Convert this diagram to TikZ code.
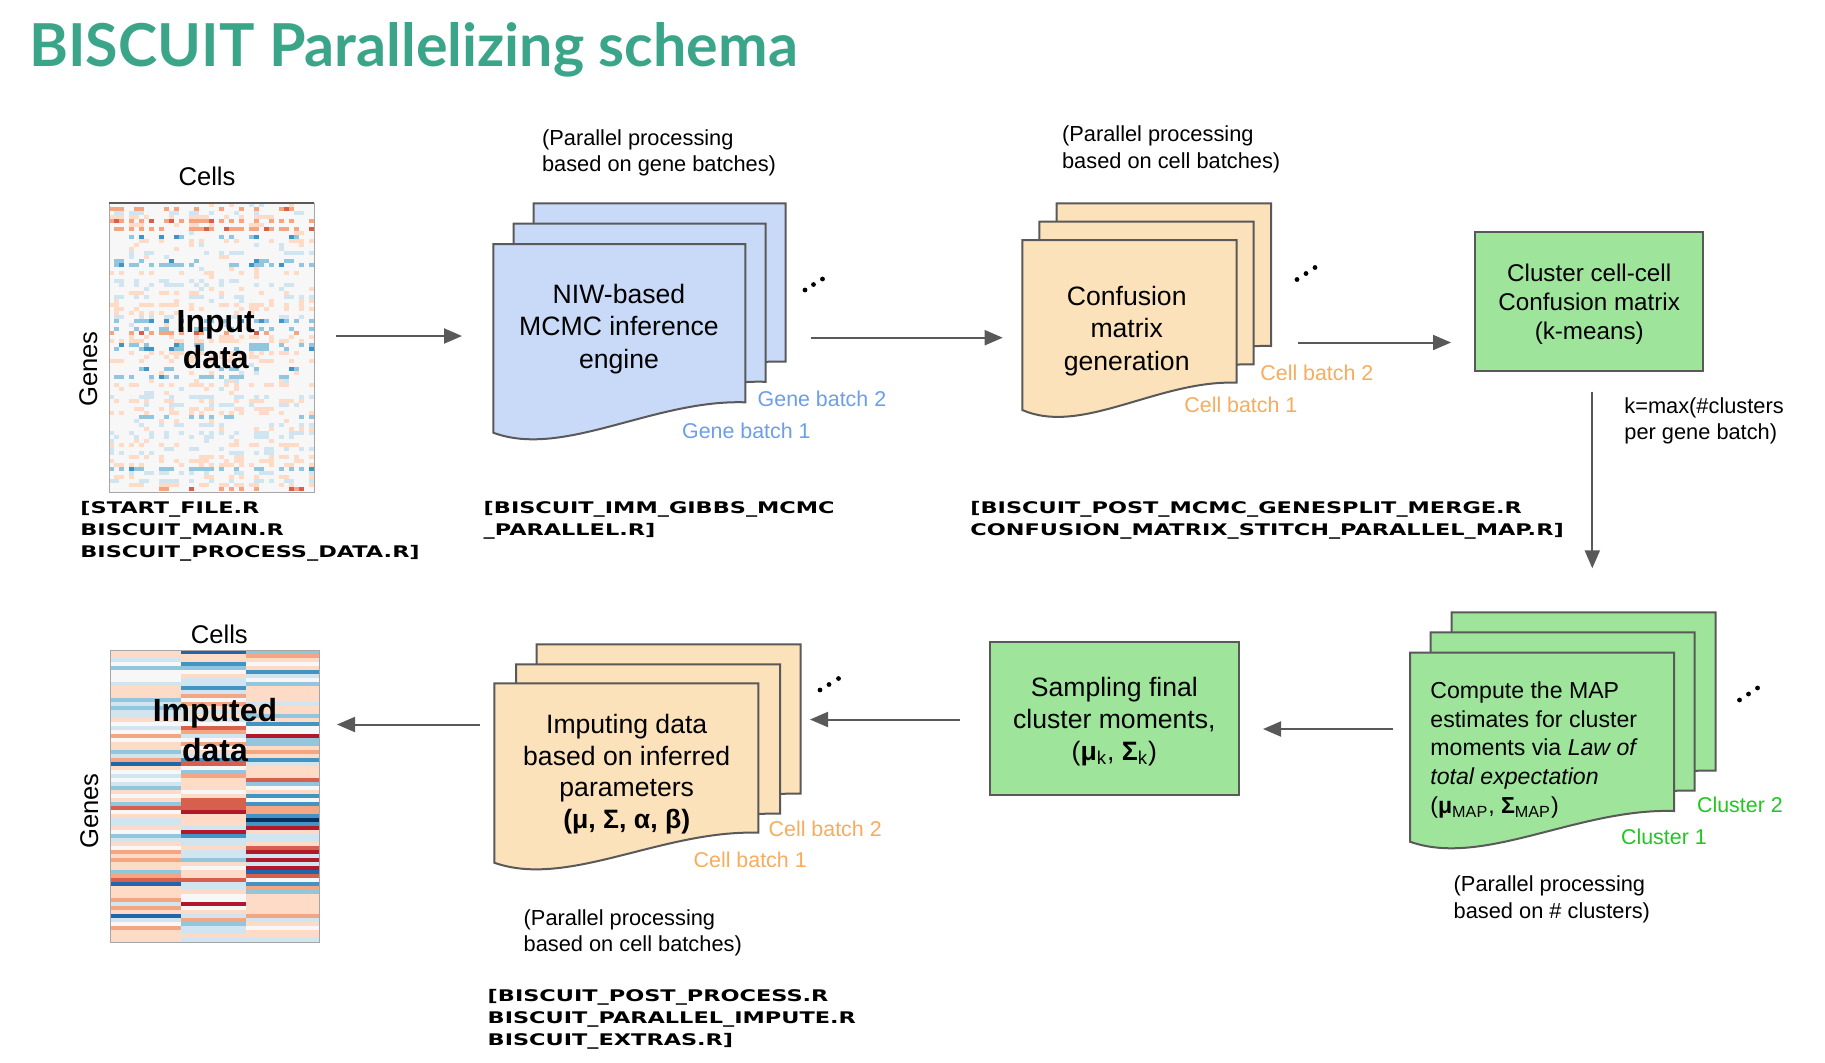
\documentclass[tikz,border=0pt]{standalone}
\usepackage{fontspec}
\setmainfont{Liberation Sans}
\newfontfamily\titlefont{Lato}
\newfontfamily\codefont[FakeStretch=1.4]{DejaVu Sans}
\usetikzlibrary{arrows.meta}
\definecolor{teal1}{HTML}{3BA589}
\definecolor{edge}{HTML}{595959}
\definecolor{blueF}{HTML}{C9DAF8}
\definecolor{peachF}{HTML}{FCE2BA}
\definecolor{greenF}{HTML}{9EE59B}
\definecolor{blueT}{HTML}{6D9EEB}
\definecolor{orangeT}{HTML}{F8AC5C}
\definecolor{greenT}{HTML}{1FC71F}
\definecolor{rb1}{HTML}{B2182B}
\definecolor{rb2}{HTML}{D6604D}
\definecolor{rb3}{HTML}{F4A582}
\definecolor{rb4}{HTML}{FDDBC7}
\definecolor{rb5}{HTML}{F7F7F7}
\definecolor{rb6}{HTML}{D1E5F0}
\definecolor{rb7}{HTML}{92C5DE}
\definecolor{rb8}{HTML}{4393C3}
\definecolor{rb9}{HTML}{2166AC}
\definecolor{rb10}{HTML}{053061}

\newcommand\hmpick[1]{%
  \ifnum#1<33 \def\hmc{rb4}\else
  \ifnum#1<53 \def\hmc{rb6}\else
  \ifnum#1<67 \def\hmc{rb5}\else
  \ifnum#1<77 \def\hmc{rb3}\else
  \ifnum#1<85 \def\hmc{rb7}\else
  \ifnum#1<90 \def\hmc{rb2}\else
  \ifnum#1<94 \def\hmc{rb8}\else
  \ifnum#1<97 \def\hmc{rb1}\else
  \ifnum#1<99 \def\hmc{rb9}\else
  \def\hmc{rb10}\fi\fi\fi\fi\fi\fi\fi\fi\fi}

\newcommand\hmcell[2]{%
  \def\hmc{}%
  \ifnum#1<3 \ifnum#2<45 \def\hmc{rb4}\fi\else
  \ifnum#1<5 \ifnum#2<40 \def\hmc{rb6}\fi\else
  \ifnum#1<6 \ifnum#2<40 \def\hmc{rb3}\else\ifnum#2<48 \def\hmc{rb2}\fi\fi\else
  \ifnum#1<7 \ifnum#2<35 \def\hmc{rb7}\else\ifnum#2<42 \def\hmc{rb8}\fi\fi\else
  \ifnum#2<8 \def\hmc{rb4}\else\ifnum#2<12 \def\hmc{rb6}\fi\fi
  \fi\fi\fi\fi}

% document sheet: x y W hR hL fill
\newcommand\docsheet[6]{%
  \pgfmathsetmacro\dxa{#1+#3}%
  \pgfmathsetmacro\dyr{#2+#4}%
  \pgfmathsetmacro\dyl{#2+#5}%
  \pgfmathsetmacro\cax{#1+0.635*#3}%
  \pgfmathsetmacro\cay{#2+#4-3}%
  \pgfmathsetmacro\cbx{#1+0.278*#3}%
  \pgfmathsetmacro\cby{#2+#5+26}%
  \draw[sheet,fill=#6] (#1,#2) -- (\dxa,#2) -- (\dxa,\dyr) .. controls (\cax,\cay) and (\cbx,\cby) .. (#1,\dyl) -- cycle;}

\newcommand\threedots[6]{%
  \fill[black] (#1,#2) circle[radius=1.2pt] (#3,#4) circle[radius=1.2pt] (#5,#6) circle[radius=1.2pt];}

\tikzset{
  sheet/.style={draw=edge, line width=1pt},
  arr/.style={draw=edge, line width=1pt, -{Triangle[length=9pt,width=7.5pt]}},
  pbox/.style={draw=edge, line width=1pt, fill=greenF, inner sep=0, align=center},
  doctext/.style={inner sep=0, font=\fontsize{13.3}{16.25}\selectfont},
  note/.style={inner sep=0, anchor=base west, font=\fontsize{10.9}{13.3}\selectfont},
  batch/.style={inner sep=0, anchor=base west, font=\fontsize{10.7}{13}\selectfont},
  axlbl/.style={inner sep=0, anchor=base, font=\fontsize{12.8}{15}\selectfont},
  codelbl/.style={inner sep=0, anchor=base west, font=\codefont\bfseries\fontsize{8}{11}\selectfont},
}

\begin{document}
\begin{tikzpicture}[x=0.5pt,y=-0.5pt]
\useasboundingbox (0,0) rectangle (1825,1062);
\fill[white] (0,0) rectangle (1825,1062);

% ---------- title
\node[anchor=base west, inner sep=0, text=teal1, font=\titlefont\bfseries\fontsize{29.6}{34}\selectfont] (title) at (29,66.5) {BISCUIT Parallelizing schema};

% ---------- input heatmap
\pgfmathsetseed{7}
\fill[rb5] (109,203) rectangle (314,492);
\foreach \hr in {0,...,71}{
  \pgfmathrandominteger{\hrt}{0}{9}
  \foreach \hc in {0,...,40}{
    \pgfmathtruncatemacro\hcm{mod(\hc*7+3,6)}
    \ifnum\hcm=0 \else
      \pgfmathrandominteger{\hp}{0}{99}
      \hmcell{\hrt}{\hp}
      \ifx\hmc\empty\else
        \fill[fill=\hmc] (109+5*\hc,203+4*\hr) rectangle ++(5,4);
      \fi
    \fi
  }
}
\draw[gray!70, line width=0.5pt] (109,203) rectangle (314,492);
\draw[edge, line width=0.7pt] (109,203) -- (314,203);
\node[axlbl] (cells1) at (207,185) {Cells};
\node[axlbl, rotate=90] (genes1) at (97,369) {Genes};
\node[inner sep=0, anchor=base, font=\bfseries\fontsize{16}{18.2}\selectfont] (indata) at (215.7,332) {\begin{tabular}[t]{@{}c@{}}Input\\data\end{tabular}};
\node[codelbl] (code1) at (80,513.3) {\begin{tabular}[t]{@{}l@{}}[START\_FILE.R\\BISCUIT\_MAIN.R\\BISCUIT\_PROCESS\_DATA.R]\end{tabular}};

% ---------- NIW documents
\docsheet{533.5}{203.3}{252}{158.3}{188.7}{blueF}
\docsheet{513.5}{223.5}{252}{158.3}{188.7}{blueF}
\docsheet{493.3}{244}{252}{158.3}{188.7}{blueF}
\node[doctext, anchor=base] (niw) at (619,303.3) {\begin{tabular}[t]{@{}c@{}}NIW-based\\MCMC inference\\engine\end{tabular}};
\node[note] (note1) at (541.7,145) {\begin{tabular}[t]{@{}l@{}}(Parallel processing\\based on gene batches)\end{tabular}};
\node[batch, text=blueT] (gb2) at (757.3,406) {Gene batch 2};
\node[batch, text=blueT] (gb1) at (681.7,438.3) {Gene batch 1};
\threedots{805}{290}{813.5}{284.5}{822.5}{279}
\node[codelbl] (code2) at (483.3,513.3) {\begin{tabular}[t]{@{}l@{}}[BISCUIT\_IMM\_GIBBS\_MCMC\\\_PARALLEL.R]\end{tabular}};

% ---------- Confusion documents
\docsheet{1056.7}{203.3}{214.4}{142.7}{170}{peachF}
\docsheet{1039.3}{221.7}{214.4}{142.7}{170}{peachF}
\docsheet{1022.3}{240}{214.4}{142.7}{170}{peachF}
\node[doctext, anchor=base] (conf) at (1126.7,305) {\begin{tabular}[t]{@{}c@{}}Confusion\\matrix\\generation\end{tabular}};
\node[note] (note2) at (1061.7,141.7) {\begin{tabular}[t]{@{}l@{}}(Parallel processing\\based on cell batches)\end{tabular}};
\node[batch, text=orangeT] (cb2a) at (1260,380.7) {Cell batch 2};
\node[batch, text=orangeT] (cb1a) at (1184,412.7) {Cell batch 1};
\threedots{1297}{279.5}{1306}{273.5}{1315}{267.5}
\node[codelbl] (code3) at (970,513.3) {\begin{tabular}[t]{@{}l@{}}[BISCUIT\_POST\_MCMC\_GENESPLIT\_MERGE.R\\CONFUSION\_MATRIX\_STITCH\_PARALLEL\_MAP.R]\end{tabular}};

% ---------- Cluster box
\node[pbox, minimum width=114.15pt, minimum height=69.5pt, font=\fontsize{12.1}{14.6}\selectfont] (clus) at (1589.2,301.5) {\raisebox{-1.6pt}[\height][\depth]{\begin{tabular}{@{}c@{}}Cluster cell-cell\\Confusion matrix\\(k-means)\end{tabular}}};
\node[note] (klbl) at (1624,413.3) {\begin{tabular}[t]{@{}l@{}}k=max(\#clusters\\per gene batch)\end{tabular}};

% ---------- MAP documents
\docsheet{1451.7}{612.3}{264}{158.3}{189}{greenF}
\docsheet{1430.7}{632.3}{264}{158.3}{189}{greenF}
\docsheet{1410}{652.7}{264}{158.3}{189}{greenF}
\node[inner sep=0, anchor=base west, font=\fontsize{11.55}{14.4}\selectfont] (map) at (1430,698.3) {\begin{tabular}[t]{@{}l@{}}Compute the MAP\\estimates for cluster\\moments via \textit{Law of}\\\textit{total expectation}\\(\textbf{μ}\textsubscript{MAP}, \textbf{Σ}\textsubscript{MAP})\end{tabular}};
\node[batch, text=greenT] (cl2) at (1696.7,812.7) {Cluster 2};
\node[batch, text=greenT] (cl1) at (1620.7,844) {Cluster 1};
\threedots{1739.5}{700}{1748.5}{694}{1757.5}{688}
\node[note] (note4) at (1453.3,891.7) {\begin{tabular}[t]{@{}l@{}}(Parallel processing\\based on \# clusters)\end{tabular}};

% ---------- Sampling box
\node[pbox, minimum width=124.35pt, minimum height=76.5pt, font=\fontsize{13.3}{16}\selectfont] (samp) at (1114.35,718.5) {\raisebox{-1.8pt}[\height][\depth]{\begin{tabular}{@{}c@{}}Sampling final\\cluster moments,\\(\textbf{μ}\textsubscript{k}, \textbf{Σ}\textsubscript{k})\end{tabular}}};

% ---------- Imputing documents
\docsheet{536.7}{644.3}{264}{149.4}{179.4}{peachF}
\docsheet{516}{664.3}{264}{149.4}{179.4}{peachF}
\docsheet{494.3}{683.3}{264}{149.4}{179.4}{peachF}
\node[inner sep=0, anchor=base, font=\fontsize{13.3}{15.9}\selectfont] (imp) at (626.7,733.3) {\begin{tabular}[t]{@{}c@{}}Imputing data\\based on inferred\\parameters\\\textbf{(μ, Σ, α, β)}\end{tabular}};
\node[batch, text=orangeT] (cb2b) at (768.3,836) {Cell batch 2};
\node[batch, text=orangeT] (cb1b) at (693.3,867.3) {Cell batch 1};
\threedots{820}{690}{829}{684.5}{838.5}{678.5}
\node[note] (note3) at (523.3,925) {\begin{tabular}[t]{@{}l@{}}(Parallel processing\\based on cell batches)\end{tabular}};
\node[codelbl] (code4) at (487.3,1001.7) {\begin{tabular}[t]{@{}l@{}}[BISCUIT\_POST\_PROCESS.R\\BISCUIT\_PARALLEL\_IMPUTE.R\\BISCUIT\_EXTRAS.R]\end{tabular}};

% ---------- imputed heatmap
\pgfmathsetseed{11}
\foreach \bx/\bw in {110/70.7,180.7/65,245.7/73.6}{
  \foreach \hr in {0,...,72}{
    \pgfmathrandominteger{\hq}{0}{99}
    \hmpick{\hq}
    \fill[fill=\hmc] (\bx,650+4*\hr) rectangle ++(\bw,4);
  }
}
\draw[gray!70, line width=0.5pt] (110,650) rectangle (319.3,942.3);
\node[axlbl] (cells2) at (219.3,643.3) {Cells};
\node[axlbl, rotate=90] (genes2) at (98,811) {Genes};
\node[inner sep=0, anchor=base, font=\bfseries\fontsize{16}{20}\selectfont] (imputed) at (215,721) {\begin{tabular}[t]{@{}c@{}}Imputed\\data\end{tabular}};

% ---------- connectors
\coordinate (a1s) at (336,336);   \coordinate (a1e) at (462,336);
\coordinate (a2s) at (811,337.7); \coordinate (a2e) at (1002.7,337.7);
\coordinate (a3s) at (1298,342.5);\coordinate (a3e) at (1451,342.5);
\coordinate (a4s) at (1592.3,391.7); \coordinate (a4e) at (1592.3,568.3);
\coordinate (a5s) at (1393,729);  \coordinate (a5e) at (1263,729);
\coordinate (a6s) at (960,719.5); \coordinate (a6e) at (810,719.5);
\coordinate (a7s) at (479.5,724.5); \coordinate (a7e) at (337,724.5);
\draw[arr] (a1s) -- (a1e);
\draw[arr] (a2s) -- (a2e);
\draw[arr] (a3s) -- (a3e);
\draw[arr] (a4s) -- (a4e);
\draw[arr] (a5s) -- (a5e);
\draw[arr] (a6s) -- (a6e);
\draw[arr] (a7s) -- (a7e);
\end{tikzpicture}
\end{document}
